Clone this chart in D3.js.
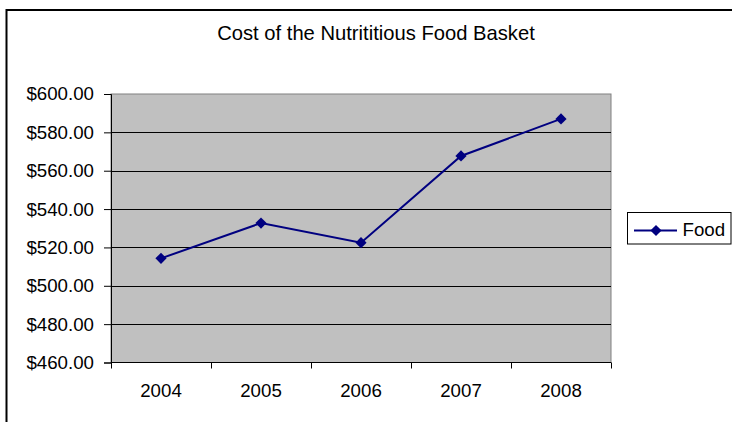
<!DOCTYPE html>
<html>
<head>
<meta charset="utf-8">
<script src="https://cdn.jsdelivr.net/npm/d3@7/dist/d3.min.js"></script>
<style>
  html, body { margin: 0; padding: 0; background: #fff; }
  svg { display: block; }
  text { font-family: "Liberation Sans", Arial, sans-serif; fill: #000; }
</style>
</head>
<body>
<svg id="chart" width="732" height="422"></svg>
<script>
const title = "Cost of the Nutrititious Food Basket";
const years = ["2004", "2005", "2006", "2007", "2008"];
const foodCost = [514.3, 532.7, 522.5, 567.7, 587.0];
const seriesName = "Food";
const yTicks = [460, 480, 500, 520, 540, 560, 580, 600];

const svg = d3.select("#chart");
const W = 732, H = 422;
const plot = { left: 111, right: 611, top: 94, bottom: 362.5 };
const fontSize = 18.7;

// outer chart border (extends past right/bottom edges)
svg.append("rect")
  .attr("x", 6.5).attr("y", 10)
  .attr("width", W + 20).attr("height", H + 20)
  .attr("fill", "#fff").attr("stroke", "#000").attr("stroke-width", 2);

const x = d3.scaleBand().domain(years).range([plot.left, plot.right]).padding(0);
const y = d3.scaleLinear().domain([460, 600]).range([plot.bottom, plot.top]);

// plot area
svg.append("rect")
  .attr("x", plot.left).attr("y", plot.top)
  .attr("width", plot.right - plot.left).attr("height", plot.bottom - plot.top)
  .attr("fill", "#C0C0C0").attr("stroke", "#808080").attr("stroke-width", 1);

// gridlines
svg.append("g").selectAll("line")
  .data(yTicks.filter(t => t !== 460 && t !== 600))
  .join("line")
  .attr("x1", plot.left).attr("x2", plot.right)
  .attr("y1", d => Math.round(y(d)) + 0.5).attr("y2", d => Math.round(y(d)) + 0.5)
  .attr("stroke", "#000").attr("stroke-width", 1);

// y axis
const yAxis = d3.axisLeft(y)
  .tickValues(yTicks)
  .tickFormat(d3.format("$,.2f"))
  .tickSize(7)
  .tickPadding(10);
const gy = svg.append("g")
  .attr("transform", `translate(${plot.left},0)`)
  .call(yAxis);
gy.select(".domain").attr("stroke", "#000");
gy.selectAll(".tick line").attr("stroke", "#000");
gy.selectAll(".tick text")
  .style("font-family", '"Liberation Sans", Arial, sans-serif')
  .style("font-size", fontSize + "px")
  .attr("fill", "#000");

// x axis baseline
svg.append("line")
  .attr("x1", plot.left).attr("x2", plot.right)
  .attr("y1", plot.bottom).attr("y2", plot.bottom)
  .attr("stroke", "#000").attr("stroke-width", 1);

// x ticks at category boundaries
const boundaries = years.map(d => x(d)).concat([x(years[years.length - 1]) + x.bandwidth()]);
svg.append("g").selectAll("line")
  .data(boundaries)
  .join("line")
  .attr("x1", d => Math.round(d) + 0.5).attr("x2", d => Math.round(d) + 0.5)
  .attr("y1", plot.bottom).attr("y2", plot.bottom + 6)
  .attr("stroke", "#000");

// x labels
svg.append("g").selectAll("text")
  .data(years)
  .join("text")
  .attr("x", d => x(d) + x.bandwidth() / 2)
  .attr("y", 397)
  .attr("text-anchor", "middle")
  .style("font-size", fontSize + "px")
  .text(d => d);

// title
svg.append("text")
  .attr("x", 376).attr("y", 40)
  .attr("text-anchor", "middle")
  .style("font-size", "20.2px")
  .text(title);

// line series
const pts = years.map((d, i) => [x(d) + x.bandwidth() / 2, y(foodCost[i])]);
svg.append("path")
  .attr("d", d3.line()(pts))
  .attr("fill", "none")
  .attr("stroke", "#000080")
  .attr("stroke-width", 2);

const diamond = d3.symbol().type(d3.symbolDiamond2).size(80);
svg.append("g").selectAll("path")
  .data(pts)
  .join("path")
  .attr("transform", d => `translate(${d[0]},${d[1]})`)
  .attr("d", diamond)
  .attr("fill", "#000080");

// legend
const lg = svg.append("g");
lg.append("rect")
  .attr("x", 627.5).attr("y", 212.5)
  .attr("width", 103.5).attr("height", 31.5)
  .attr("fill", "#fff").attr("stroke", "#000").attr("stroke-width", 1);
lg.append("line")
  .attr("x1", 634).attr("x2", 677)
  .attr("y1", 230.5).attr("y2", 230.5)
  .attr("stroke", "#000080").attr("stroke-width", 2);
lg.append("path")
  .attr("transform", "translate(656,230.5)")
  .attr("d", diamond)
  .attr("fill", "#000080");
lg.append("text")
  .attr("x", 682.5).attr("y", 236)
  .style("font-size", fontSize + "px")
  .text(seriesName);
</script>
</body>
</html>
